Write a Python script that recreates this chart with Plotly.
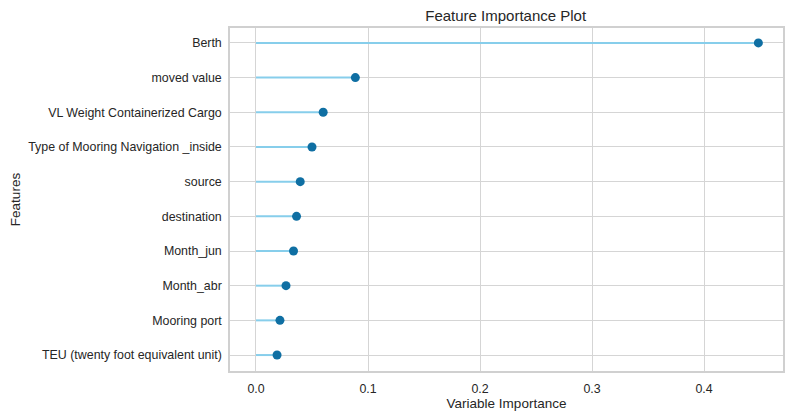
import plotly.graph_objects as go

features = ['TEU (twenty foot equivalent unit)', 'Mooring port', 'Month_abr', 'Month_jun',
            'destination', 'source', 'Type of Mooring Navigation _inside',
            'VL Weight Containerized Cargo', 'moved value', 'Berth']
importance = [0.0188, 0.0214, 0.0268, 0.0335, 0.0362, 0.0395, 0.0500, 0.0600, 0.0887, 0.4485]

# stems from zero to each value
stem_x = []
stem_y = []
for f, v in zip(features, importance):
    stem_x += [0, v, None]
    stem_y += [f, f, None]

fig = go.Figure()
fig.add_trace(go.Scatter(x=stem_x, y=stem_y, mode='lines',
                         line=dict(color='#87ceeb', width=2), hoverinfo='skip'))
fig.add_trace(go.Scatter(x=importance, y=features, mode='markers',
                         marker=dict(color='#0f6fa3', size=9)))

# page body adds 8px margin, so the figure is a bit smaller than the window
fig.update_layout(
    width=785, height=410,
    margin=dict(l=222, r=10, t=20, b=47),
    paper_bgcolor='white', plot_bgcolor='white',
    showlegend=False,
    font=dict(family='Liberation Sans, Arial, sans-serif', size=12.4, color='#262626'),
    title=dict(text='Feature Importance Plot', x=0.634, xanchor='center',
               y=0.995, yanchor='top', font=dict(size=15, color='#262626')),
)
fig.update_xaxes(range=[-0.0232, 0.4705], tickvals=[0, 0.1, 0.2, 0.3, 0.4],
                 ticktext=['0.0', '0.1', '0.2', '0.3', '0.4'], automargin=False,
                 showgrid=True, gridcolor='#d5d5d5', gridwidth=1.3,
                 showline=True, linecolor='#d0d0d0', linewidth=1.5, mirror=True,
                 zeroline=False, ticks='outside', ticklen=5, tickcolor='white',
                 title=dict(text='Variable Importance', standoff=2, font=dict(size=13.5)))
fig.update_yaxes(categoryorder='array', categoryarray=features, range=[-0.46, 9.43],
                 automargin=False,
                 showgrid=True, gridcolor='#d5d5d5', gridwidth=1.3,
                 showline=True, linecolor='#d0d0d0', linewidth=1.5, mirror=True,
                 zeroline=False, ticks='outside', ticklen=4, tickcolor='white',
                 title=dict(text='Features', standoff=4, font=dict(size=13.5)))

fig.write_html("out.html")
